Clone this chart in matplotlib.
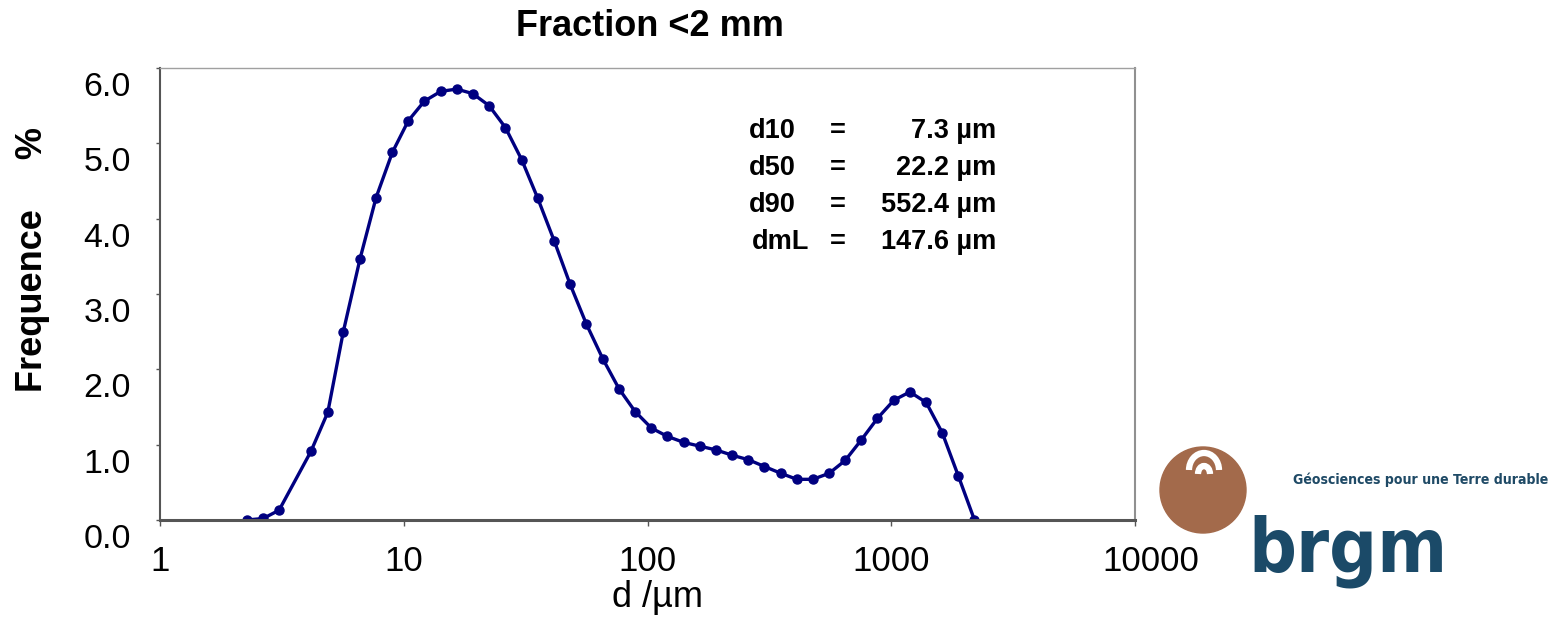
import matplotlib
matplotlib.use("Agg")
import matplotlib.pyplot as plt
from matplotlib import font_manager
from matplotlib.font_manager import FontProperties
from matplotlib.patches import Circle, Arc
from matplotlib.transforms import ScaledTranslation

# grain size classes (µm) and frequency (%)
d_um = [2.27, 2.65, 3.08, 4.16, 4.88, 5.65, 6.62, 7.70, 8.98, 10.44,
        12.15, 14.19, 16.50, 19.19, 22.39, 26.12, 30.50, 35.47, 41.37, 48.13,
        56.15, 65.56, 76.46, 88.94, 103.8, 120.7, 140.9, 163.9, 191.2, 222.5,
        259.4, 301.8, 352.4, 409.9, 476.9, 556.2, 647.0, 752.5, 877.9, 1025,
        1192, 1391, 1618, 1887, 2195]
freq = [0.00, 0.02, 0.13, 0.91, 1.43, 2.50, 3.47, 4.28, 4.88, 5.30,
        5.56, 5.69, 5.72, 5.66, 5.50, 5.21, 4.78, 4.27, 3.71, 3.13,
        2.60, 2.14, 1.74, 1.44, 1.22, 1.11, 1.03, 0.98, 0.93, 0.86,
        0.80, 0.71, 0.62, 0.54, 0.54, 0.62, 0.79, 1.06, 1.35, 1.59,
        1.70, 1.56, 1.16, 0.58, 0.00]

x_ticks = [1, 10, 100, 1000, 10000]
y_ticks = [0, 1, 2, 3, 4, 5, 6]

stat_names = ["d10", "d50", "d90", "dmL"]
stat_values = ["7.3 µm", "22.2 µm", "552.4 µm", "147.6 µm"]

W, H = 1557, 621
FONT = "Liberation Sans"
plt.rcParams["font.family"] = [FONT, "DejaVu Sans"]


def condensed_font(bold):
    # look for any narrow / condensed face for the logo lettering
    for f in font_manager.fontManager.ttflist:
        narrow = ("Narrow" in f.name or "Condensed" in f.name
                  or "Condensed" in f.fname or "Narrow" in f.fname
                  or f.stretch in ("condensed", "semi-condensed"))
        is_bold = f.weight in ("bold", 700) or "Bold" in f.fname
        if narrow and is_bold == bold and "Oblique" not in f.fname \
                and "Italic" not in f.fname:
            return f.fname
    return None


bold_narrow = condensed_font(True)

fig = plt.figure(figsize=(W / 100, H / 100), dpi=100)
ax = fig.add_axes([160 / W, 1 - 520 / H, 975 / W, 452 / H])

ax.plot(d_um, freq, color="#000080", linewidth=2.4, marker="o", markersize=6.5)

ax.set_xscale("log")
ax.set_xlim(1, 10000)
ax.set_ylim(0, 6)
ax.set_xticks(x_ticks)
ax.set_xticklabels([str(v) for v in x_ticks])
ax.xaxis.set_minor_locator(matplotlib.ticker.NullLocator())
ax.set_yticks(y_ticks)
ax.set_yticklabels([f"{v:.1f}" for v in y_ticks])
ax.tick_params(axis="x", direction="out", length=4, width=1, pad=14,
               labelsize=25, color="#555555")
ax.tick_params(axis="y", direction="out", length=3, width=1, pad=18,
               labelsize=24.5, color="#555555")

# Excel-style y labels sit below their tick
shift = ScaledTranslation(0, -16 / 100, fig.dpi_scale_trans)
for lab in ax.get_yticklabels():
    lab.set_transform(lab.get_transform() + shift)
last = ax.get_xticklabels()[-1]
last.set_transform(last.get_transform() + ScaledTranslation(0.16, 0, fig.dpi_scale_trans))

ax.spines["left"].set_color("#555555")
ax.spines["left"].set_linewidth(1.5)
ax.spines["bottom"].set_color("#555555")
ax.spines["bottom"].set_linewidth(2.2)
ax.spines["top"].set_color("#a0a0a0")
ax.spines["top"].set_linewidth(1.0)
ax.spines["right"].set_color("#909090")
ax.spines["right"].set_linewidth(1.5)

ax.set_xlabel("d /µm", fontsize=26)
ax.xaxis.set_label_coords((658 - 160) / 975, (520 - 580) / 452)
ax.xaxis.label.set_verticalalignment("top")

# overlay in pixel coordinates for free text and logo
ov = fig.add_axes([0, 0, 1, 1])
ov.set_xlim(0, W)
ov.set_ylim(H, 0)
ov.axis("off")

ov.text(650, 27, "Fraction <2 mm", ha="center", va="center",
        fontsize=26, fontweight="bold")
ov.text(33, 260, "Frequence     %", ha="center", va="center", rotation=90,
        fontsize=26, fontweight="bold")

line_y = [131, 168, 205, 242]
for name, val, y in zip(stat_names, stat_values, line_y):
    x0 = 749 if name != "dmL" else 752
    ov.text(x0, y, name, ha="left", va="center", fontsize=19.5, fontweight="bold")
    ov.text(838, y, "=", ha="center", va="center", fontsize=19.5, fontweight="bold")
    ov.text(996, y, val, ha="right", va="center", fontsize=19.5, fontweight="bold")

# brgm logo
ov.add_patch(Circle((1203, 490), 43, color="#a36a4b", zorder=2))
ov.add_patch(Arc((1204, 470), 30, 34, theta1=180, theta2=360,
                 color="white", linewidth=4.5, zorder=3))
ov.add_patch(Arc((1204, 474), 12, 16, theta1=180, theta2=360,
                 color="white", linewidth=4.5, zorder=3))

if bold_narrow:
    tag_font = FontProperties(fname=bold_narrow, size=12)
    logo_font = FontProperties(fname=bold_narrow, size=60)
else:
    tag_font = FontProperties(family=FONT, weight="bold", size=11)
    logo_font = FontProperties(family=FONT, weight="bold", size=60)

tag = ov.text(1293, 480, "Géosciences pour une Terre durable", ha="left",
              va="center", fontproperties=tag_font, color="#1f4a66")
logo = ov.text(1248, 572, "brgm", ha="left", va="baseline",
               fontproperties=logo_font, color="#1b4a68")

# shrink the logo lettering to the widths it has in the picture
renderer = fig.canvas.get_renderer()
for txt, target in [(tag, 255), (logo, 199)]:
    width = txt.get_window_extent(renderer).width
    txt.set_fontsize(txt.get_fontsize() * target / width)

fig.savefig("out.png", dpi=100)
